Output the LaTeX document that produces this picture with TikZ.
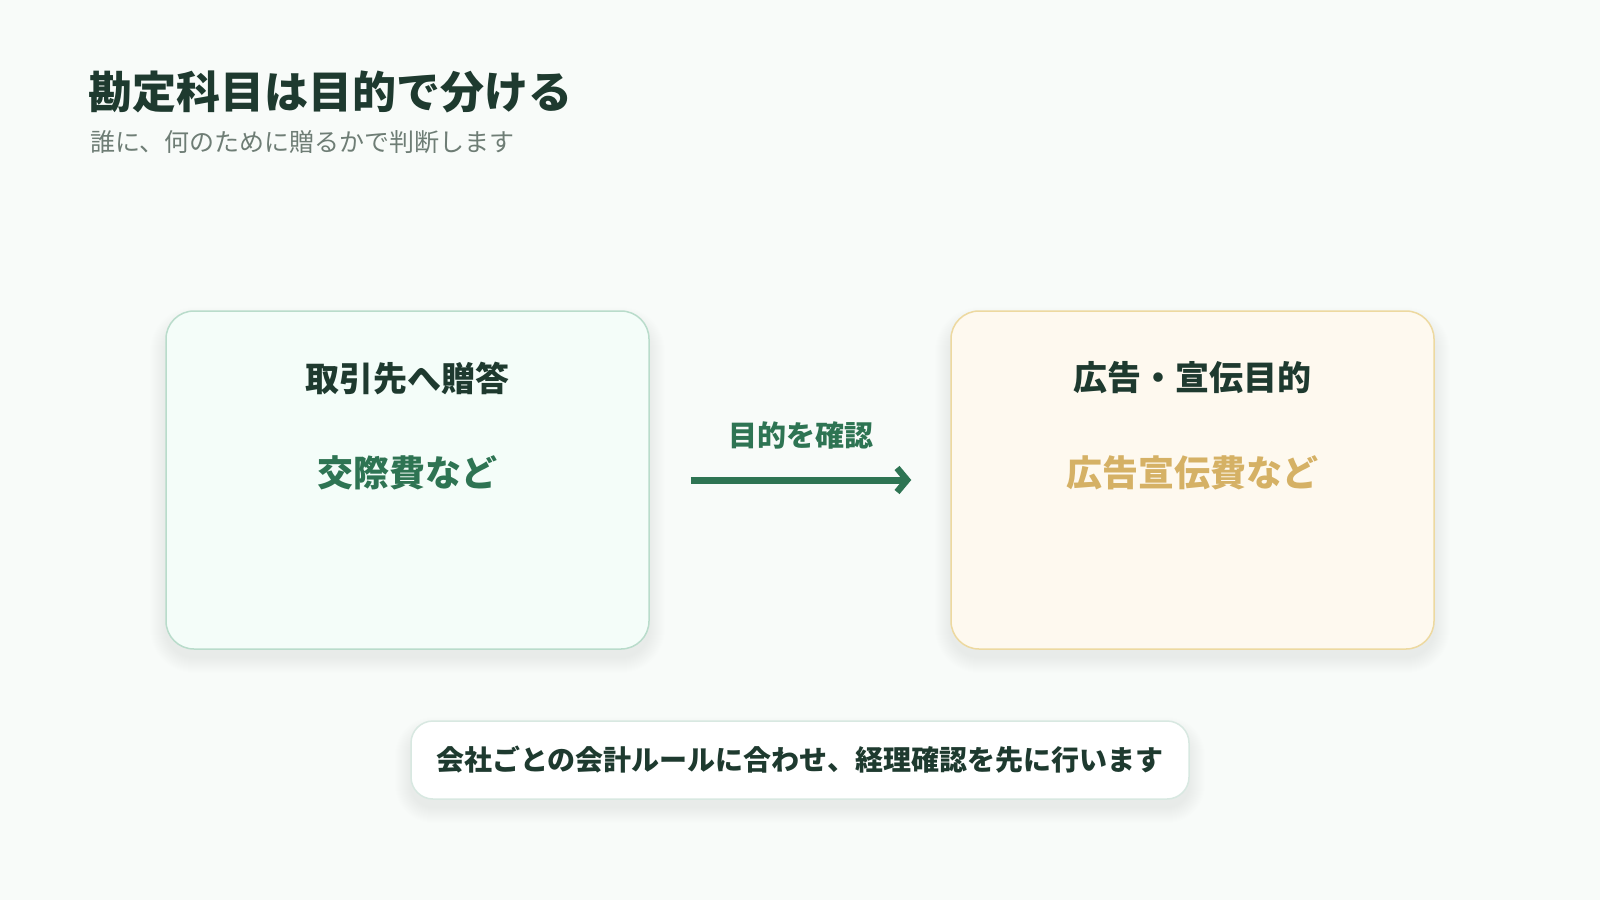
\documentclass[tikz,border=0pt]{standalone}
\usepackage{fontspec}
\setmainfont{Noto Sans CJK JP}
\usetikzlibrary{arrows.meta}
\definecolor{bgc}{HTML}{F8FBF9}
\definecolor{darkc}{HTML}{1E3A2F}
\definecolor{greenc}{HTML}{2E7453}
\definecolor{goldc}{HTML}{D5B165}
\definecolor{grayc}{HTML}{6E7D75}
\definecolor{mintfill}{HTML}{F4FDF9}
\definecolor{mintline}{HTML}{B9DCCB}
\definecolor{creamfill}{HTML}{FEF9EF}
\definecolor{creamline}{HTML}{EDD9A0}
\definecolor{noteline}{HTML}{D8E8E1}
\tikzset{
  card/.style={draw, line width=1.5pt, rounded corners=28pt, minimum width=483pt, minimum height=338pt, inner sep=0pt},
  notebox/.style={draw=noteline, fill=white, line width=1.5pt, rounded corners=22pt, minimum width=778pt, minimum height=78pt, inner sep=0pt},
  heading/.style={text=darkc, font=\bfseries\fontsize{34}{40}\selectfont, inner sep=0pt},
  content/.style={font=\bfseries\fontsize{36}{43}\selectfont, inner sep=0pt},
  flowarrow/.style={draw=greenc, line width=7pt, -{Straight Barb[length=10pt,width=24pt,line width=6.5pt]}},
}
\newcommand{\mysoftshadow}[5]{%
  \foreach \k in {1,...,16}{
    \fill[black, opacity=0.0035, rounded corners=#5+\k] (#1-\k,#2-\k+12) rectangle (#3+\k,#4+\k+8);
  }}
\begin{document}
\begin{tikzpicture}[x=1pt,y=-1pt]
\fill[bgc] (0,0) rectangle (1600,900);
\useasboundingbox (0,0) rectangle (1600,900);

\node[anchor=west, inner sep=0pt, text=darkc, font=\bfseries\fontsize{44}{52}\selectfont] (title) at (88,92) {勘定科目は目的で分ける};
\node[anchor=west, inner sep=0pt, text=grayc, font=\fontsize{25}{30}\selectfont] (subtitle) at (90,142) {誰に、何のために贈るかで判断します};

\mysoftshadow{166}{311}{649}{649}{28}
\mysoftshadow{951}{311}{1434}{649}{28}
\mysoftshadow{411}{721}{1189}{799}{22}

\node[card, draw=mintline, fill=mintfill] (left) at (407.5,480) {};
\node[card, draw=creamline, fill=creamfill] (right) at (1192.5,480) {};

\node[heading] (lhead) at (407.5,378) {取引先へ贈答};
\node[content, text=greenc] (lbody) at (407.5,473) {交際費など};
\node[heading] (rhead) at (1192.5,378) {広告・宣伝目的};
\node[content, text=goldc] (rbody) at (1192.5,473) {広告宣伝費など};

\draw[flowarrow, shorten <=41pt, shorten >=39pt] (left.east) -- (right.west);
\node[text=greenc, font=\bfseries\fontsize{29}{34}\selectfont, inner sep=0pt] (alabel) at (801,435) {目的を確認};

\node[notebox] (note) at (800,760) {};
\node[text=darkc, font=\bfseries\fontsize{28}{33}\selectfont, inner sep=0pt] (notetext) at (800,760) {会社ごとの会計ルールに合わせ、経理確認を先に行います};
\end{tikzpicture}
\end{document}
